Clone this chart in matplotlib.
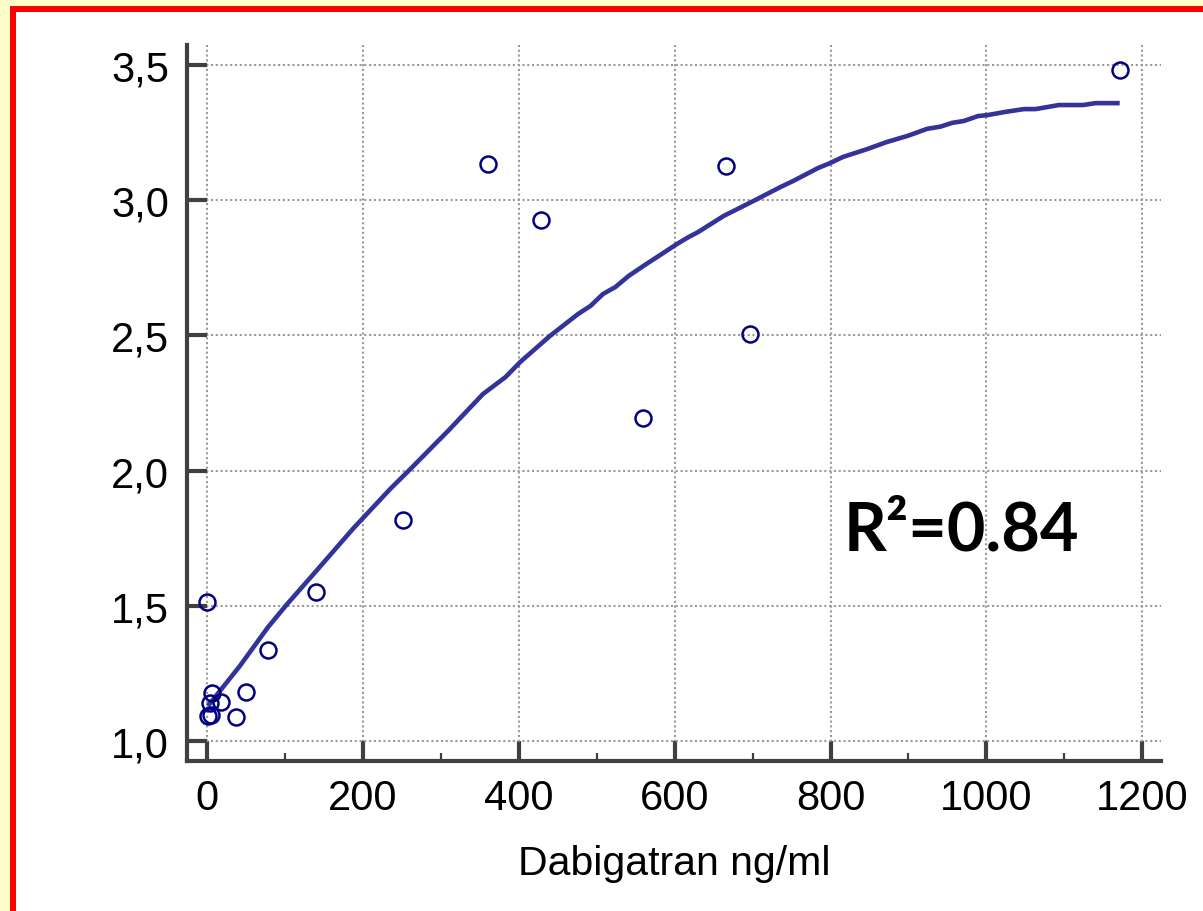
import matplotlib
matplotlib.use("Agg")
import matplotlib.pyplot as plt
from matplotlib.patches import Rectangle
from matplotlib.ticker import MultipleLocator, FixedLocator, FixedFormatter

# observed points (Dabigatran ng/ml vs ratio)
dabi_x = [1172, 361, 428, 666, 697, 559, 252, 140, 78, 50, 37, 0,
          6, 18, 4, 1, 5]
ratio_y = [3.48, 3.134, 2.927, 3.127, 2.505, 2.195, 1.817, 1.551, 1.337, 1.181, 1.089, 1.514,
           1.176, 1.144, 1.141, 1.092, 1.096]

# smoothed fit line
fit_x = [1, 42, 78, 103, 139, 187, 235, 261, 299, 309, 354, 383, 402, 440, 476, 492,
         508, 524, 541, 560, 603, 618, 630, 663, 701, 736, 752, 784, 800, 816, 847,
         872, 899, 924, 941, 956, 971, 989, 1002, 1023, 1048, 1063, 1093, 1124, 1140, 1171]
fit_y = [1.129, 1.277, 1.42, 1.507, 1.625, 1.784, 1.932, 2.006, 2.117, 2.146, 2.283, 2.346,
         2.402, 2.498, 2.579, 2.609, 2.653, 2.679, 2.72, 2.757, 2.838, 2.864, 2.882, 2.942,
         2.997, 3.049, 3.071, 3.119, 3.138, 3.16, 3.189, 3.215, 3.238, 3.264, 3.272, 3.286,
         3.293, 3.311, 3.315, 3.326, 3.337, 3.337, 3.352, 3.352, 3.359, 3.359]

yticks = [1.0, 1.5, 2.0, 2.5, 3.0, 3.5]
ytick_labels = ["1,0", "1,5", "2,0", "2,5", "3,0", "3,5"]
xticks = [0, 200, 400, 600, 800, 1000, 1200]
r2_text = "R\u00b2=0.84"

fig = plt.figure(figsize=(12.03, 9.12), dpi=100, facecolor="#FFFFCC")
# white panel with red frame (runs off the right/bottom edges)
frame = Rectangle((12.5 / 1203, -0.2), 1.3, 1.2 - 9.5 / 912, transform=fig.transFigure,
                  facecolor="white", edgecolor="#FF0000", linewidth=4.3, zorder=-10)
fig.patches.append(frame)

ax = fig.add_axes([187 / 1203, 1 - 762 / 912, (1161 - 187) / 1203, (762 - 46) / 912])
ax.set_facecolor("none")

ax.plot(fit_x, fit_y, color="#333399", lw=3.3, zorder=3, solid_capstyle="butt")
ax.plot(dabi_x, ratio_y, linestyle="none", marker="o", markersize=11.5,
        markerfacecolor="none", markeredgecolor="#000080", markeredgewidth=1.8, zorder=4)

ax.set_xlim(-25.7, 1224)
ax.set_ylim(0.926, 3.574)

for s in ["top", "right"]:
    ax.spines[s].set_visible(False)
for s in ["left", "bottom"]:
    ax.spines[s].set_color("#404040")
    ax.spines[s].set_linewidth(3)

ax.xaxis.set_major_locator(FixedLocator(xticks))
ax.xaxis.set_minor_locator(MultipleLocator(100))
ax.yaxis.set_major_locator(FixedLocator(yticks))
ax.yaxis.set_major_formatter(FixedFormatter(ytick_labels))

ax.tick_params(axis="both", which="major", direction="in", length=14.5, width=3,
               color="#404040", labelsize=30)
ax.tick_params(axis="x", which="minor", direction="in", length=6, width=1.6, color="#404040")
ax.tick_params(axis="x", which="major", pad=12)
ax.tick_params(axis="y", which="major", pad=13)
for lab in ax.get_xticklabels() + ax.get_yticklabels():
    lab.set_fontfamily("Liberation Sans")

ax.grid(True, which="major", color="#999999", linestyle=(0, (1, 1.3)), linewidth=1.5)
ax.set_axisbelow(True)

ax.set_xlabel("Dabigatran ng/ml", fontsize=29.5, fontfamily="Liberation Sans", labelpad=19)

ax.text(817, 1.71, r2_text, fontsize=48, fontweight="bold", fontfamily="Lato",
        ha="left", va="baseline")

fig.savefig("out.png", dpi=100, facecolor=fig.get_facecolor())
